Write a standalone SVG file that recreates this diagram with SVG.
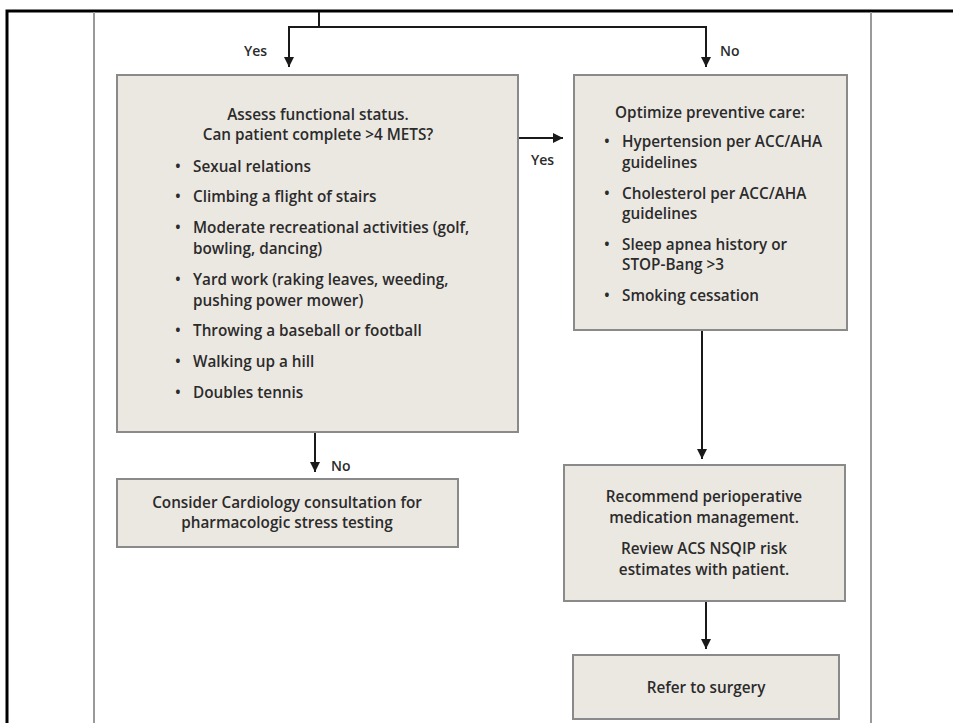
<svg xmlns="http://www.w3.org/2000/svg" width="953" height="723" viewBox="0 0 953 723">
<style>
  .frame { stroke: #000; stroke-width: 3; fill: none; }
  .guide { stroke: #9a9a9a; stroke-width: 2; fill: none; }
  .box { fill: #ebe8e2; stroke: #8a8a8a; stroke-width: 2; }
  .conn { stroke: #1a1a1a; stroke-width: 2; fill: none; }
  text { font-family: "Open Sans", "Liberation Sans", sans-serif; font-weight: 600; font-size: 15.3px; fill: #2b2b2b; }
  .c { text-anchor: middle; }
  .lbl { font-size: 14px; }
</style>
<defs>
  <marker id="arr" viewBox="0 0 10 10" refX="10" refY="5" markerWidth="5" markerHeight="5" orient="auto" markerUnits="strokeWidth">
    <path d="M0,0 L10,5 L0,10 z" fill="#1a1a1a"/>
  </marker>
</defs>
<rect width="953" height="723" fill="#fff"/>
<g id="frame">
  <path class="frame" d="M7,723 V11 H953"/>
  <path class="guide" d="M94,12 V723"/>
  <path class="guide" d="M871,12 V723"/>
</g>
<g id="connectors">
  <path class="conn" d="M319,12 V27"/>
  <path class="conn" d="M289,27 H706"/>
  <path class="conn" d="M289,26 V67" marker-end="url(#arr)"/>
  <path class="conn" d="M706,26 V67" marker-end="url(#arr)"/>
  <path class="conn" d="M518,138 H563" marker-end="url(#arr)"/>
  <path class="conn" d="M315,432 V472" marker-end="url(#arr)"/>
  <path class="conn" d="M702,331 V459" marker-end="url(#arr)"/>
  <path class="conn" d="M706,602 V649" marker-end="url(#arr)"/>
  <text class="lbl" x="244" y="56">Yes</text>
  <text class="lbl" x="720" y="56">No</text>
  <text class="lbl" x="531" y="165">Yes</text>
  <text class="lbl" x="331" y="471">No</text>
</g>
<g id="assess">
  <rect class="box" x="117" y="75" width="401" height="357"/>
  <text class="c" x="318" y="120">Assess functional status.</text>
  <text class="c" x="318" y="140">Can patient complete &gt;4 METS?</text>
  <text x="175" y="172">•</text><text x="193" y="172">Sexual relations</text>
  <text x="175" y="202">•</text><text x="193" y="202">Climbing a flight of stairs</text>
  <text x="175" y="233">•</text><text x="193" y="233">Moderate recreational activities (golf,</text>
  <text x="193" y="254">bowling, dancing)</text>
  <text x="175" y="285">•</text><text x="193" y="285">Yard work (raking leaves, weeding,</text>
  <text x="193" y="306">pushing power mower)</text>
  <text x="175" y="336">•</text><text x="193" y="336">Throwing a baseball or football</text>
  <text x="175" y="367">•</text><text x="193" y="367">Walking up a hill</text>
  <text x="175" y="398">•</text><text x="193" y="398">Doubles tennis</text>
</g>
<g id="optimize">
  <rect class="box" x="574" y="75" width="273" height="255"/>
  <text class="c" x="710" y="118">Optimize preventive care:</text>
  <text x="604" y="147">•</text><text x="622" y="147">Hypertension per ACC/AHA</text>
  <text x="622" y="168">guidelines</text>
  <text x="604" y="199">•</text><text x="622" y="199">Cholesterol per ACC/AHA</text>
  <text x="622" y="219">guidelines</text>
  <text x="604" y="250">•</text><text x="622" y="250">Sleep apnea history or</text>
  <text x="622" y="270">STOP-Bang &gt;3</text>
  <text x="604" y="301">•</text><text x="622" y="301">Smoking cessation</text>
</g>
<g id="cardiology">
  <rect class="box" x="117" y="479" width="341" height="68"/>
  <text class="c" x="287" y="508">Consider Cardiology consultation for</text>
  <text class="c" x="287" y="528">pharmacologic stress testing</text>
</g>
<g id="recommend">
  <rect class="box" x="564" y="465" width="281" height="136"/>
  <text class="c" x="704" y="502">Recommend perioperative</text>
  <text class="c" x="704" y="523">medication management.</text>
  <text class="c" x="704" y="554">Review ACS NSQIP risk</text>
  <text class="c" x="704" y="575">estimates with patient.</text>
</g>
<g id="refer">
  <rect class="box" x="573" y="655" width="266" height="64"/>
  <text class="c" x="706" y="693">Refer to surgery</text>
</g>
</svg>
